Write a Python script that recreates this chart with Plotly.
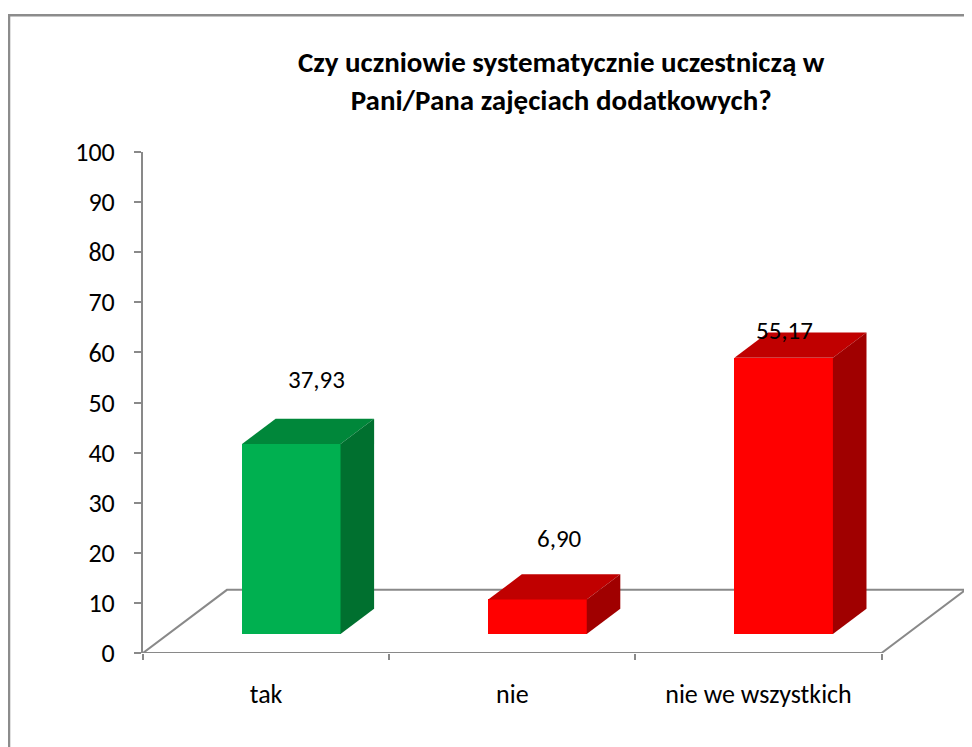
import plotly.graph_objects as go

# ---------------------------------------------------------------------------
# data
CATEGORIES = ["tak", "nie", "nie we wszystkich"]
VALUES = [37.93, 6.90, 55.17]
VALUE_TEXT = ["37,93", "6,90", "55,17"]
TITLE = "<b>Czy uczniowie systematycznie uczestniczą w<br>Pani/Pana zajęciach dodatkowych?</b>"
Y_TICKS = list(range(0, 101, 10))

# colours per bar: front / top / side faces
FRONT = ["#00B050", "#FF0000", "#FF0000"]
TOP = ["#00873A", "#C00000", "#C00000"]
SIDE = ["#00702F", "#A00000", "#A00000"]

# ---------------------------------------------------------------------------
# fake 3-D geometry (category units along x, value units along y)
DEPTH_X, DEPTH_Y = 0.341, 12.6      # full floor depth projected
BAR_W = 0.4
D0, D1 = 0.3, 0.4                   # bar starts at 30 % of depth, is 40 % deep
dx0, dy0 = D0 * DEPTH_X, D0 * DEPTH_Y
ddx, ddy = D1 * DEPTH_X, D1 * DEPTH_Y

# label nudges (Excel placed them by hand-ish)
LABEL_DX = [0.205, 0.193, 0.106]
LABEL_DY = [16.6, 16.05, 9.3]

FONT = "Carlito, Lato, 'Liberation Sans', sans-serif"
GRAY = "#898989"

n = len(CATEGORIES)
xmin, xmax = -0.5, n - 0.5

fig = go.Figure()

# front faces as real bars
fig.add_trace(go.Bar(
    x=[i + dx0 for i in range(n)], y=VALUES, base=dy0, width=BAR_W,
    marker=dict(color=FRONT, line=dict(width=0)),
    hoverinfo="skip", showlegend=False,
))

# top and side faces
for i, v in enumerate(VALUES):
    xl = i + dx0 - BAR_W / 2
    xr = i + dx0 + BAR_W / 2
    top = v + dy0
    fig.add_trace(go.Scatter(
        x=[xl, xr, xr + ddx, xl + ddx, xl],
        y=[top, top, top + ddy, top + ddy, top],
        fill="toself", fillcolor=TOP[i], mode="lines", line=dict(width=0),
        hoverinfo="skip", showlegend=False,
    ))
    fig.add_trace(go.Scatter(
        x=[xr, xr, xr + ddx, xr + ddx, xr],
        y=[dy0, top, top + ddy, dy0 + ddy, dy0],
        fill="toself", fillcolor=SIDE[i], mode="lines", line=dict(width=0),
        hoverinfo="skip", showlegend=False,
    ))

# floor outline (behind bars)
fig.add_shape(
    type="path", xref="x", yref="y", layer="below",
    path=(f"M {xmin},0 L {xmax},0 L {xmax + DEPTH_X},{DEPTH_Y} "
          f"L {xmin + DEPTH_X},{DEPTH_Y} Z"),
    line=dict(color=GRAY, width=2),
)

# value labels
for i, v in enumerate(VALUES):
    fig.add_annotation(
        x=i + LABEL_DX[i], y=v + LABEL_DY[i], text=VALUE_TEXT[i],
        showarrow=False, font=dict(size=25, color="black", family=FONT),
    )

# title
fig.add_annotation(
    xref="paper", yref="paper", x=0.5067, y=1.1417,
    text=TITLE, showarrow=False, align="center",
    xanchor="center", yanchor="middle",
    font=dict(size=29, color="black", family=FONT),
)

# chart border
fig.add_shape(
    type="rect", xref="paper", yref="paper",
    x0=-0.1624, y0=-0.5, x1=1.2, y1=1.273,
    line=dict(color="#8C8C8C", width=2.5),
)

fig.update_layout(
    width=972, height=747,
    margin=dict(l=135, r=12, t=144, b=102),
    paper_bgcolor="white", plot_bgcolor="white",
    font=dict(family=FONT, size=26, color="black"),
    bargap=0,
    xaxis=dict(
        range=[xmin, xmax + DEPTH_X + 0.01],
        tickvals=list(range(n)), ticktext=CATEGORIES,
        ticks="", showline=False, showgrid=False, zeroline=False,
        ticklabelstandoff=23,
        minor=dict(tickmode="array", tickvals=[k - 0.5 for k in range(n + 1)],
                   ticks="outside", ticklen=6, tickwidth=2, tickcolor=GRAY,
                   showgrid=False),
        fixedrange=True,
    ),
    yaxis=dict(
        range=[0, 100], tickvals=Y_TICKS,
        showline=True, linecolor=GRAY, linewidth=2,
        ticks="outside", ticklen=7, tickwidth=2, tickcolor=GRAY,
        showgrid=False, zeroline=False, ticklabelstandoff=14,
        fixedrange=True,
    ),
)

fig.write_html("out.html")
